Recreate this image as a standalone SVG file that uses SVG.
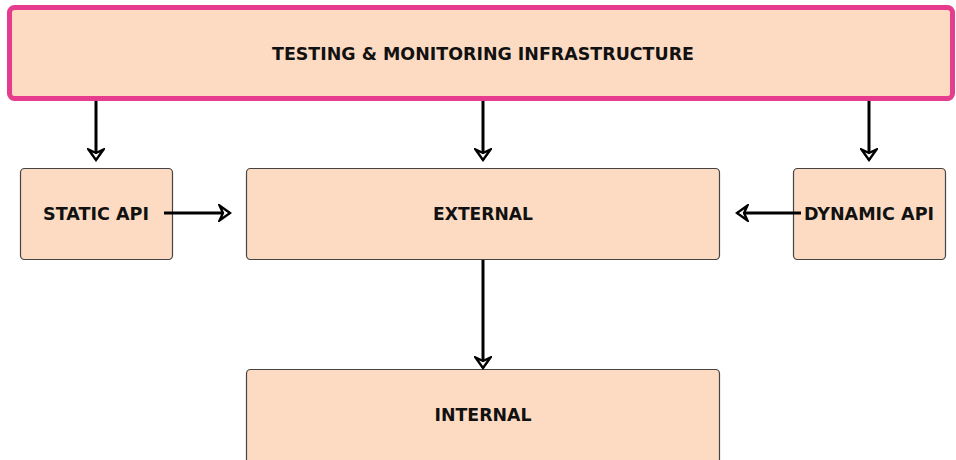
<svg xmlns="http://www.w3.org/2000/svg" width="956" height="460" viewBox="0 0 956 460">
  <defs>
    <style>
      .box { fill: #fddbc2; stroke: #444; stroke-width: 1.2; }
      .frame { fill: #fddbc2; stroke: #e53c8d; stroke-width: 5; }
      .lbl { font-family: "DejaVu Sans", "Liberation Sans", sans-serif; font-weight: bold; font-size: 17px; fill: #111; text-anchor: middle; }
      .wire { stroke: #000; stroke-width: 3; fill: none; marker-end: url(#head); }
    </style>
    <marker id="head" viewBox="0 0 14 18" refX="12" refY="9" markerWidth="14" markerHeight="18" markerUnits="userSpaceOnUse" orient="auto">
      <path d="M1.5,1.5 L12,9 L1.5,16.5 L5,9 Z" fill="#fff" stroke="#000" stroke-width="2.4" stroke-linejoin="miter"/>
    </marker>
  </defs>

  <g id="infra">
    <rect class="frame" x="9.5" y="7.5" width="943" height="91" rx="5"/>
    <text class="lbl" x="483" y="60" textLength="422" lengthAdjust="spacingAndGlyphs">TESTING &amp; MONITORING INFRASTRUCTURE</text>
  </g>
  <g id="static-api">
    <rect class="box" x="20.5" y="168.5" width="152" height="91" rx="4"/>
    <text class="lbl" x="96" y="220" textLength="106" lengthAdjust="spacingAndGlyphs">STATIC API</text>
  </g>
  <g id="external">
    <rect class="box" x="246.5" y="168.5" width="473" height="91" rx="4"/>
    <text class="lbl" x="483" y="220" textLength="100" lengthAdjust="spacingAndGlyphs">EXTERNAL</text>
  </g>
  <g id="dynamic-api">
    <rect class="box" x="793.5" y="168.5" width="152" height="91" rx="4"/>
    <text class="lbl" x="869" y="220" textLength="130" lengthAdjust="spacingAndGlyphs">DYNAMIC API</text>
  </g>
  <g id="internal">
    <rect class="box" x="246.5" y="369.5" width="473" height="95" rx="4"/>
    <text class="lbl" x="483" y="421" textLength="97" lengthAdjust="spacingAndGlyphs">INTERNAL</text>
  </g>

  <g id="connectors">
    <line class="wire" x1="96" y1="101" x2="96" y2="160"/>
    <line class="wire" x1="483" y1="101" x2="483" y2="160"/>
    <line class="wire" x1="869" y1="101" x2="869" y2="160"/>
    <line class="wire" x1="164" y1="213" x2="230" y2="213"/>
    <line class="wire" x1="801" y1="213" x2="737" y2="213"/>
    <line class="wire" x1="483" y1="260" x2="483" y2="368"/>
  </g>
</svg>
